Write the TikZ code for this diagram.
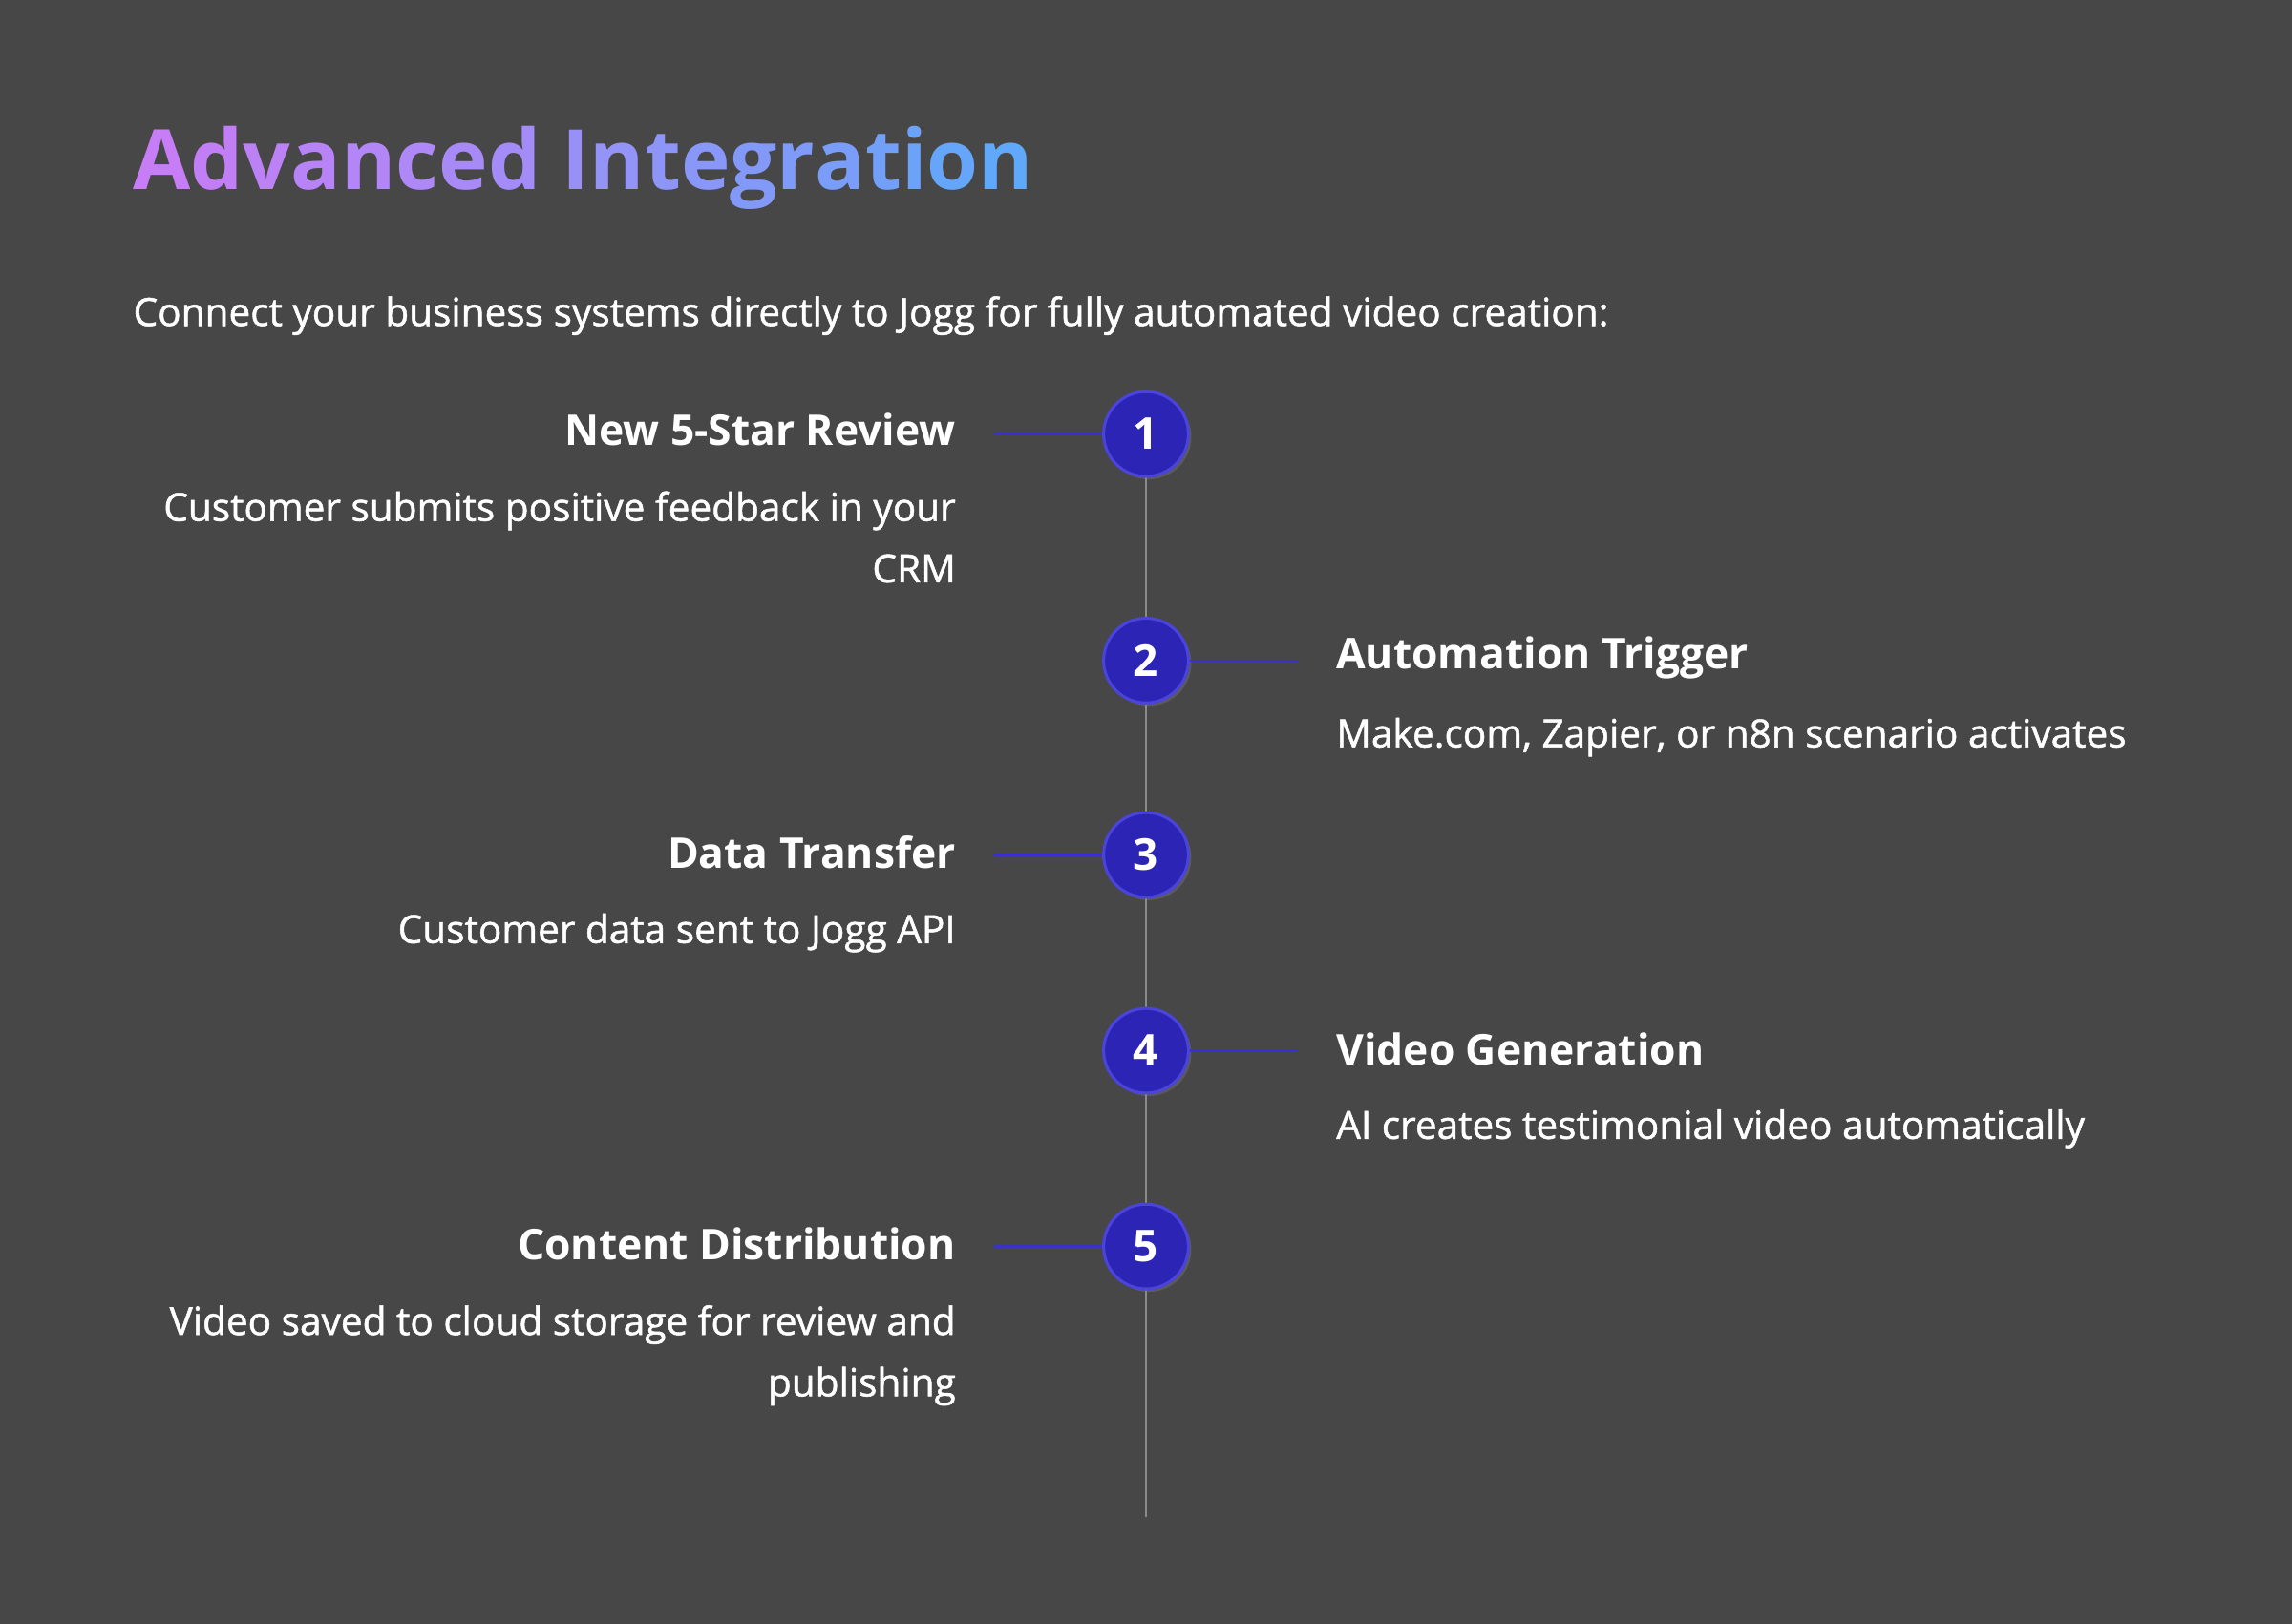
\documentclass[tikz,border=0pt]{standalone}
\usepackage{fontspec}
\setmainfont{Open Sans}[UprightFeatures={FakeBold=1.2}]
\usetikzlibrary{shadows}
\definecolor{bg}{HTML}{484748}
\definecolor{tl}{HTML}{8A8A8A}
\definecolor{cf}{HTML}{2B24B5}
\definecolor{cb}{HTML}{4A44DA}
\definecolor{cn}{HTML}{3A31C8}
\definecolor{ga}{HTML}{C77DF5}
\definecolor{gb}{HTML}{5FA8FA}
\newcommand{\gl}[2]{{\color{gb!#1!ga}#2}}
\tikzset{
 num/.style={circle,minimum size=58pt,fill=cf,draw=cb,line width=2pt,text=white,font=\fontsize{30}{30}\selectfont\bfseries,drop shadow={opacity=0.35,shadow xshift=2pt,shadow yshift=-2pt}},
 head/.style={text=white,font=\fontsize{29}{30}\selectfont\bfseries,inner sep=0},
 desc/.style={text=white,font=\fontsize{26.5}{42}\selectfont,inner sep=0},
 conn/.style={cn,line width=1.6pt}
}
\begin{document}
\begin{tikzpicture}[x=1pt,y=-1pt]
\fill[bg] (0,0) rectangle (1568,1111);
\useasboundingbox (0,0) rectangle (1568,1111);
\node[anchor=base west,inner sep=0,font=\fontsize{57}{60}\selectfont\bfseries] (title) at (91,130) {\gl{0}{A}\gl{5}{d}\gl{10}{v}\gl{15}{a}\gl{20}{n}\gl{25}{c}\gl{30}{e}\gl{35}{d} \gl{45}{I}\gl{50}{n}\gl{55}{t}\gl{60}{e}\gl{65}{g}\gl{70}{r}\gl{75}{a}\gl{82}{t}\gl{88}{i}\gl{94}{o}\gl{100}{n}};
\node[anchor=west,desc] (sub) at (91,216) {Connect your business systems directly to Jogg for fully automated video creation:};
\coordinate (top) at (784,297);
\coordinate (bot) at (784,1038);
\draw[tl,line width=1.6pt] (top) -- (bot);
\foreach \n/\y in {1/297,2/452,3/585,4/719,5/853}{
 \node[num] (c\n) at (784,\y) {\n};
}
\coordinate (l1) at (680,297); \draw[conn] (l1) -- (c1);
\coordinate (l3) at (680,585); \draw[conn] (l3) -- (c3);
\coordinate (l5) at (680,853); \draw[conn] (l5) -- (c5);
\coordinate (r2) at (888,452); \draw[conn] (c2) -- (r2);
\coordinate (r4) at (888,719); \draw[conn] (c4) -- (r4);
\node[head,anchor=east] (h1) at (654,294) {New 5-Star Review};
\node[desc,anchor=north east,align=right] (d1) at (654,336) {Customer submits positive feedback in your\\CRM};
\node[head,anchor=east] (h3) at (654,583) {Data Transfer};
\node[desc,anchor=north east,align=right] (d3) at (654,625) {Customer data sent to Jogg API};
\node[head,anchor=east] (h5) at (654,851) {Content Distribution};
\node[desc,anchor=north east,align=right] (d5) at (654,893) {Video saved to cloud storage for review and\\publishing};
\node[head,anchor=west] (h2) at (914,450) {Automation Trigger};
\node[desc,anchor=north west,align=left] (d2) at (914,491) {Make.com, Zapier, or n8n scenario activates};
\node[head,anchor=west] (h4) at (914,718) {Video Generation};
\node[desc,anchor=north west,align=left] (d4) at (914,759) {AI creates testimonial video automatically};
\end{tikzpicture}
\end{document}
